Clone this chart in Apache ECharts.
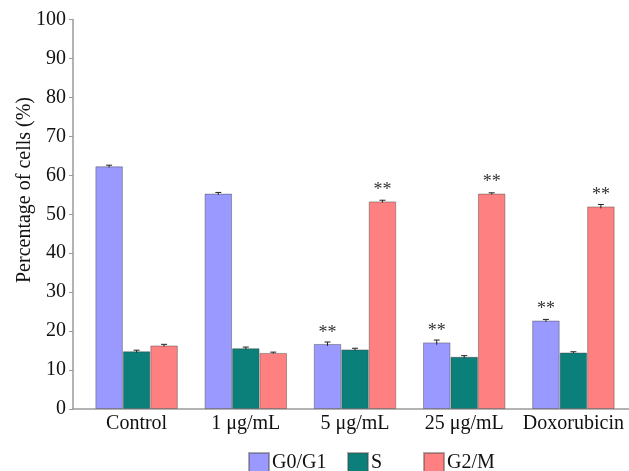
<!DOCTYPE html>
<html>
<head>
<meta charset="utf-8">
<script src="https://cdn.jsdelivr.net/npm/echarts@6/dist/echarts.min.js"></script>
<style>html,body{margin:0;padding:0;background:#fff;}#c{width:629px;height:471px;}</style>
</head>
<body>
<div id="c"></div>
<script>
const categories = ['Control', '1 μg/mL', '5 μg/mL', '25 μg/mL', 'Doxorubicin'];
const g0g1 = [62.3, 55.3, 16.7, 17.1, 22.7];
const sPhase = [14.8, 15.6, 15.3, 13.4, 14.5];
const g2m = [16.3, 14.4, 53.3, 55.3, 52.0];
const g0g1Err = [0.3, 0.3, 0.5, 0.6, 0.3];
const sErr = [0.3, 0.3, 0.3, 0.3, 0.2];
const g2mErr = [0.3, 0.2, 0.3, 0.2, 0.5];
const g0g1Sig = [false, false, true, true, true];
const g2mSig = [false, false, true, true, true];
const yTicks = [0, 10, 20, 30, 40, 50, 60, 70, 80, 90, 100];

const seriesNames = ['G0/G1', 'S', 'G2/M'];
const colors = ['#9999FF', '#0B7F79', '#FF8080'];
const values = [g0g1, sPhase, g2m];
const errs = [g0g1Err, sErr, g2mErr];
const sigs = [g0g1Sig, null, g2mSig];
const CAT_GAP = 0.245;
const FONT = '"Liberation Serif", "Times New Roman", serif';

const chart = echarts.init(document.getElementById('c'));

const series = [];
values.forEach((vals, k) => {
  series.push({
    name: seriesNames[k],
    type: 'bar',
    xAxisIndex: 0, yAxisIndex: 0,
    barGap: '0%',
    barCategoryGap: (CAT_GAP * 100) + '%',
    itemStyle: { color: colors[k], borderColor: 'rgba(70,70,70,0.45)', borderWidth: 1 },
    label: {
      show: false, position: 'top', distance: 2,
      formatter: '**', fontFamily: FONT, fontSize: 18, color: '#333'
    },
    data: vals.map((v, i) => (sigs[k] && sigs[k][i]) ? { value: v, label: { show: true } } : v),
    z: 2
  });
});
values.forEach((vals, k) => {
  series.push({
    type: 'custom',
    xAxisIndex: 0, yAxisIndex: 0,
    data: vals.map((v, i) => [i, v, errs[k][i]]),
    renderItem: function (params, api) {
      const i = api.value(0), v = api.value(1), e = api.value(2);
      const band = api.size([1, 0])[0];
      const bw = band * (1 - CAT_GAP) / 3;
      const c = api.coord([i, v]);
      const x = c[0] + (k - 1) * bw;
      const yTop = api.coord([i, v + e])[1];
      const yBot = api.coord([i, v - e])[1];
      const w = 3;
      const st = { stroke: '#222', lineWidth: 1 };
      return { type: 'group', children: [
        { type: 'line', shape: { x1: x, y1: yTop, x2: x, y2: yBot }, style: st },
        { type: 'line', shape: { x1: x - w, y1: yTop, x2: x + w, y2: yTop }, style: st }
      ] };
    },
    z: 3
  });
});

const legendTop = 452;
const legendText = { fontFamily: FONT, fontSize: 20, color: '#111', padding: [0, 0, 0, -2] };
const legendBase = { top: legendTop, padding: 0, icon: 'rect', itemWidth: 20, itemHeight: 20, itemGap: 0, textStyle: legendText };
chart.setOption({
  animation: false,
  backgroundColor: '#fff',
  grid: [
    { left: 82, right: 1, top: 19.5, bottom: 62 },
    { left: 73, right: 0, top: 19.5, bottom: 62 }
  ],
  legend: [
    Object.assign({ data: ['G0/G1'], left: 248 }, legendBase),
    Object.assign({ data: ['S'], left: 347 }, legendBase),
    Object.assign({ data: ['G2/M'], left: 423 }, legendBase)
  ],
  xAxis: [
    {
      type: 'category', gridIndex: 0, data: categories,
      axisLine: { show: false },
      axisTick: { show: false },
      axisLabel: { fontFamily: FONT, fontSize: 20, color: '#111', margin: 5, interval: 0 }
    },
    {
      type: 'value', gridIndex: 1, min: 0, max: 1,
      axisLine: { show: true, lineStyle: { color: '#9a9a9a', width: 1.5 } },
      axisTick: { show: false }, axisLabel: { show: false }, splitLine: { show: false }
    }
  ],
  yAxis: [
    {
      type: 'value', gridIndex: 0, min: yTicks[0], max: yTicks[yTicks.length - 1], interval: 10,
      offset: 9,
      axisLine: { show: true, lineStyle: { color: '#9a9a9a', width: 1.5 } },
      axisTick: { show: true, length: 4, lineStyle: { color: '#9a9a9a' } },
      axisLabel: { fontFamily: FONT, fontSize: 20, color: '#111', margin: 7 },
      splitLine: { show: false }
    },
    {
      type: 'value', gridIndex: 1, show: false, min: 0, max: 1
    }
  ],
  graphic: [{
    type: 'text', x: 25, y: 190, rotation: Math.PI / 2,
    style: { text: 'Percentage of cells (%)', fontFamily: FONT, fontSize: 20, fill: '#111',
      align: 'center', verticalAlign: 'middle' }
  }],
  series: series
});
</script>
</body>
</html>
